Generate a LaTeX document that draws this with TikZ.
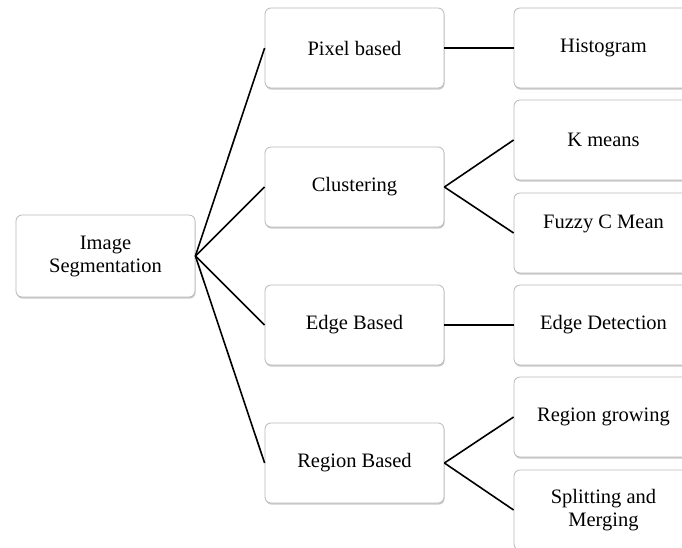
\documentclass[tikz,border=0pt]{standalone}
\usepackage{fontspec}
\setmainfont{Liberation Serif}
\usetikzlibrary{shadows}
\definecolor{boxline}{RGB}{185,185,185}
\tikzset{
  segbox/.style={rectangle, rounded corners=6pt, minimum width=179pt, minimum height=80pt, text centered, align=center, draw=boxline, line width=0.8pt, fill=white, font=\fontsize{20.5}{23}\selectfont, drop shadow={shadow xshift=0.6pt, shadow yshift=-1.6pt, opacity=0.35, fill=black!60}},
  link/.style={line width=1.6pt, black}
}

\begin{document}
\begin{tikzpicture}[x=1pt, y=-1pt]
    \clip (0,0) rectangle (682,547);

    % 1. Nodo raiz
    \node[segbox, minimum height=82pt] (root) at (105.5, 256) {Image\\Segmentation};

    % 2. Columna del medio
    \node[segbox] (pixel) at (354.5, 48) {Pixel based};
    \node[segbox] (clust) at (354.5, 187) {Clustering};
    \node[segbox] (edge) at (354.5, 325) {Edge Based};
    \node[segbox] (region) at (354.5, 463) {Region Based};

    % 3. Columna derecha
    \node[segbox] (histo) at (603.5, 48) {Histogram};
    \node[segbox] (kmeans) at (603.5, 140) {K means};
    \node[segbox] (fuzzy) at (603.5, 233) {Fuzzy C Mean\\~};
    \node[segbox] (edgedet) at (603.5, 325) {Edge Detection};
    \node[segbox] (grow) at (603.5, 417) {Region growing};
    \node[segbox] (split) at (603.5, 510) {Splitting and\\Merging};

    % 4. Conexiones
    \foreach \n in {pixel, clust, edge, region}
        \draw[link] (root.east) -- (\n.west);
    \draw[link] (pixel.east) -- (histo.west);
    \draw[link] (clust.east) -- (kmeans.west);
    \draw[link] (clust.east) -- (fuzzy.west);
    \draw[link] (edge.east) -- (edgedet.west);
    \draw[link] (region.east) -- (grow.west);
    \draw[link] (region.east) -- (split.west);

\end{tikzpicture}
\end{document}
